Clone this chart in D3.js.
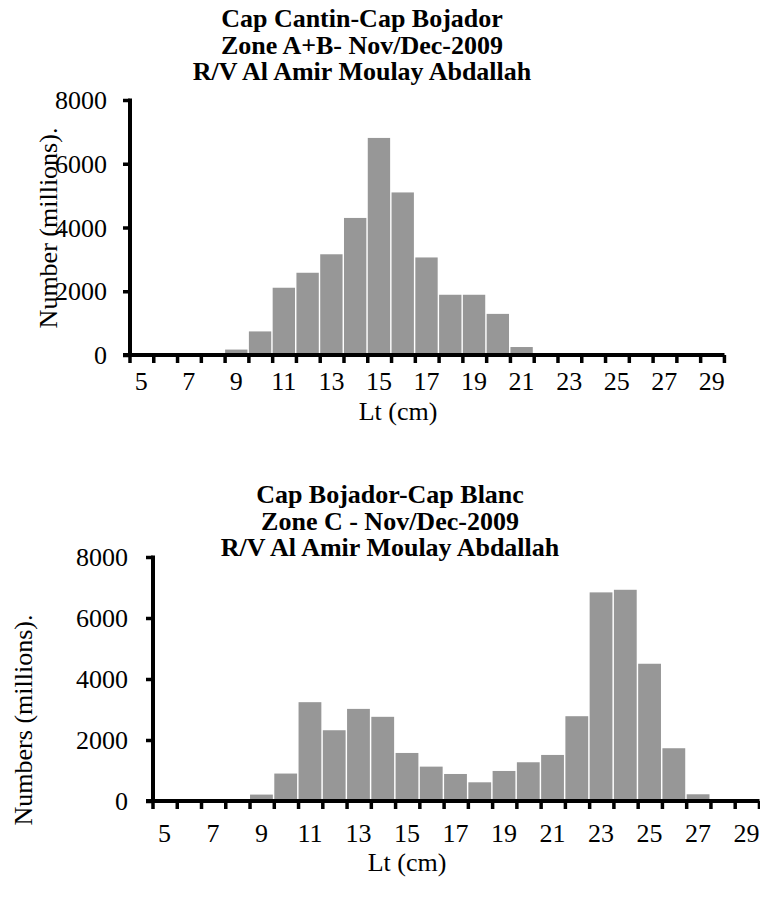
<!DOCTYPE html>
<html>
<head>
<meta charset="utf-8">
<script src="https://cdn.jsdelivr.net/npm/d3@7"></script>
<style>
  body { margin: 0; background: #fff; }
  svg text { font-family: "Liberation Serif", "Times New Roman", Times, "DejaVu Serif", serif; fill: #000; }
</style>
</head>
<body>
<div id="chart"></div>
<script>
// Data
var lengths = d3.range(5, 30);   // Lt classes 5..29 cm
var tickLabels = [5, 7, 9, 11, 13, 15, 17, 19, 21, 23, 25, 27, 29];
var yTicks = [0, 2000, 4000, 6000, 8000];

var zoneAB = [0, 0, 0, 0, 170, 740, 2110, 2580, 3160, 4300, 6810, 5100, 3060,
              1890, 1890, 1290, 250, 0, 0, 0, 0, 0, 0, 0, 0];
var zoneC = [0, 0, 0, 0, 210, 900, 3240, 2320, 3020, 2760, 1575, 1127, 886,
             613, 985, 1270, 1510, 2780, 6840, 6925, 4500, 1730, 220, 0, 0];

var titleAB = ["Cap Cantin-Cap Bojador", "Zone A+B- Nov/Dec-2009", "R/V Al Amir Moulay Abdallah"];
var titleC = ["Cap Bojador-Cap Blanc", "Zone C - Nov/Dec-2009", "R/V Al Amir Moulay Abdallah"];

var svg = d3.select("#chart")
  .append("svg")
  .attr("width", 760)
  .attr("height", 902);

function drawChart(cfg) {
  var x = d3.scaleBand()
    .domain(lengths)
    .range([cfg.left, cfg.right])
    .paddingInner(0.06);

  var y = d3.scaleLinear()
    .domain([0, 8000])
    .range([cfg.bottom, cfg.top]);

  var g = svg.append("g");

  // bars
  g.selectAll("rect")
    .data(cfg.values.map((v, i) => ({ len: lengths[i], v: v })).filter(d => d.v > 0))
    .enter()
    .append("rect")
    .attr("x", d => x(d.len))
    .attr("y", d => y(d.v))
    .attr("width", x.bandwidth())
    .attr("height", d => y(0) - y(d.v))
    .attr("fill", "#979797");

  // x axis: ticks at class boundaries, labels on odd classes
  var step = x.step();
  var boundaries = d3.range(lengths.length + 1).map(i => cfg.left + i * step);
  g.append("line")
    .attr("x1", cfg.left - 7).attr("x2", cfg.right + 1.5)
    .attr("y1", y(0)).attr("y2", y(0))
    .attr("stroke", "#000").attr("stroke-width", 4);
  g.selectAll(".xtick")
    .data(boundaries)
    .enter()
    .append("line")
    .attr("x1", d => d).attr("x2", d => d)
    .attr("y1", y(0)).attr("y2", y(0) + 8)
    .attr("stroke", "#000").attr("stroke-width", 3.5);
  g.selectAll(".xlab")
    .data(tickLabels)
    .enter()
    .append("text")
    .attr("x", d => x(d) + x.bandwidth() / 2)
    .attr("y", y(0) + cfg.tickDy)
    .attr("text-anchor", "middle")
    .attr("font-size", "26px")
    .text(d => d);

  // y axis
  var yAxis = d3.axisLeft(y).tickValues(yTicks).tickSize(7)
    .tickPadding(cfg.yPad).tickFormat(d3.format("d"));
  var ya = g.append("g")
    .attr("transform", `translate(${cfg.left},0)`)
    .call(yAxis);
  ya.select(".domain").attr("stroke-width", 4).attr("d", `M0,${cfg.top - 1.5}V${cfg.bottom}`);
  ya.selectAll(".tick line").attr("stroke-width", 3.5);
  ya.selectAll(".tick text")
    .attr("font-size", "26px")
    .attr("dy", "0.33em");

  // title
  g.selectAll(".title")
    .data(cfg.title)
    .enter()
    .append("text")
    .attr("x", cfg.titleX)
    .attr("y", (d, i) => cfg.titleY + i * 26.5)
    .attr("text-anchor", "middle")
    .attr("font-weight", "bold")
    .attr("font-size", "26px")
    .text(d => d);

  // axis labels
  g.append("text")
    .attr("x", cfg.xLabelX)
    .attr("y", cfg.xLabelY)
    .attr("text-anchor", "middle")
    .attr("font-size", "26px")
    .text("Lt (cm)");

  g.append("text")
    .attr("transform", `translate(${cfg.yLabelX},${cfg.yLabelY}) rotate(-90)`)
    .attr("text-anchor", "middle")
    .attr("font-size", "26px")
    .text(cfg.yLabel);
}

drawChart({
  values: zoneAB, title: titleAB,
  left: 130, right: 723, top: 100, bottom: 355,
  tickDy: 35, yPad: 16, titleX: 362, titleY: 27,
  xLabelX: 398, xLabelY: 420,
  yLabelX: 57, yLabelY: 228, yLabel: "Number (millions)."
});

drawChart({
  values: zoneC, title: titleC,
  left: 153, right: 758, top: 557, bottom: 801,
  tickDy: 41, yPad: 18, titleX: 390, titleY: 503,
  xLabelX: 407, xLabelY: 871,
  yLabelX: 32, yLabelY: 720, yLabel: "Numbers (millions)."
});
</script>
</body>
</html>
